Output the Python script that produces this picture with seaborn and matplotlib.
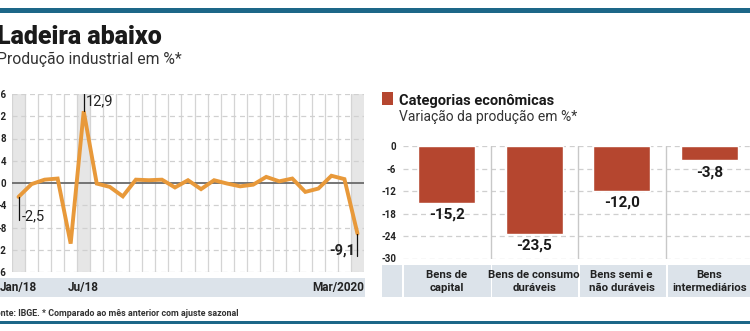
import numpy as np
import pandas as pd
import matplotlib
matplotlib.use("Agg")
import matplotlib.pyplot as plt
from matplotlib.patches import Rectangle
import seaborn as sns

# ---------------- data ----------------
months = list(range(27))  # Jan/2018 .. Mar/2020
production = [-2.5, -0.2, 0.6, 0.8, -10.9, 12.9, -0.1, -0.7, -2.4, 0.6, 0.5, 0.6, -0.8,
              0.5, -1.1, 0.5, -0.1, -0.6, -0.3, 1.1, 0.3, 0.8, -1.6, -1.0, 1.3, 0.7, -9.1]
month_tick_pos = [0, 5, 26]
month_tick_labels = ["Jan/18", "Ju/18", "Mar/2020"]
highlight_months = [0, 5, 26]
left_yticks = [16, 12, 8, 4, 0, -4, -8, -12, -16]

categories = ["Bens de\ncapital", "Bens de consumo\nduráveis", "Bens semi e\nnão duráveis", "Bens\nintermediários"]
cat_values = [-15.2, -23.5, -12.0, -3.8]
right_yticks = [0, -6, -12, -18, -24, -30]

# ---------------- style ----------------
sns.set_theme(style="white")
FONT = ["Roboto", "DejaVu Sans"]
plt.rcParams["font.family"] = FONT

W, H = 750, 331
fig = plt.figure(figsize=(W / 100, H / 100), dpi=100)
fig.patch.set_facecolor("white")

def fx(x):
    return x / W

def fy(y):
    return 1 - y / H

def rect(x0, y0, x1, y1, color, z=0):
    fig.patches.append(Rectangle((fx(x0), fy(y1)), fx(x1) - fx(x0), fy(y0) - fy(y1),
                                 transform=fig.transFigure, facecolor=color,
                                 edgecolor="none", zorder=z))

TEAL = "#1d6788"
BAND = "#dce3ea"
ORANGE = "#e8993a"
RED = "#b5462f"
TXT = "#222222"

# rules
rect(0, 8, 750, 13, TEAL)
rect(0, 321, 750, 323.5, TEAL)

# titles
fig.text(fx(-3), fy(44), "Ladeira abaixo", fontsize=18, fontweight="heavy", color="#1a1a1a",
         va="baseline", ha="left")
fig.text(fx(-3), fy(64), "Produção industrial em %*", fontsize=11.3, color="#333333",
         va="baseline", ha="left")

# ---------------- left line chart ----------------
ax1 = fig.add_axes([fx(12), fy(272), fx(364) - fx(12), fy(94) - fy(272)])
ax1.set_facecolor("none")
for m in highlight_months:
    ax1.axvspan(m - 0.5, m + 0.5, color="#e6e6e6", zorder=0, lw=0)
ax1.set_xlim(-0.5, 26.5)
ax1.set_ylim(-16, 16)
ax1.set_xticks(np.arange(-0.5, 27, 1), minor=True)
ax1.grid(which="minor", axis="x", color="#d4d4d4", lw=0.9, zorder=1)
for yv in left_yticks:
    if yv != 0:
        ax1.axhline(yv, color="#d0d0d0", lw=0.9, ls=(0, (4, 3)), zorder=1)
ax1.axhline(0, color="#6a6a6a", lw=1.3, zorder=2)

df_line = pd.DataFrame({"month": months, "value": production})
sns.lineplot(data=df_line, x="month", y="value", ax=ax1, color=ORANGE, lw=2.8,
             zorder=4, solid_joinstyle="miter")

for s in ax1.spines.values():
    s.set_visible(False)
ax1.set_xlabel("")
ax1.set_ylabel("")
ax1.set_yticks(left_yticks)
ax1.set_yticklabels([str(v) for v in left_yticks], fontsize=7, fontweight="bold", color=TXT)
ax1.tick_params(axis="y", length=0, pad=4)
ax1.set_xticks([month_tick_pos[0], month_tick_pos[1], month_tick_pos[2] + 0.5])
ax1.set_xticklabels(month_tick_labels, fontsize=8.5, fontweight="bold", color=TXT, va="center")
ax1.tick_params(axis="x", which="both", length=0, pad=11.5)
ax1.get_xticklabels()[-1].set_ha("right")

# annotations
i0, i5, i26 = 0, 5, 26
ax1.plot([i0, i0], [production[i0], -6.6], color="#111111", lw=0.9, zorder=5)
ax1.text(i0 + 0.25, -5.9, "-2,5", fontsize=10.5, color="#222222", va="center", ha="left")
ax1.plot([i5, i5], [production[i5], 16], color="#111111", lw=0.9, zorder=5)
ax1.text(i5 + 0.2, 14.6, "12,9", fontsize=10.5, color="#222222", va="center", ha="left")
ax1.plot([i26, i26], [production[i26], -13.1], color="#111111", lw=0.9, zorder=5)
ax1.text(i26 - 0.2, -12.2, "-9,1", fontsize=10.5, fontweight="bold", color="#222222",
         va="center", ha="right")

# band under left chart
rect(0, 278, 365, 297, BAND, z=-1)

# ---------------- right bar chart ----------------
rect(382, 92, 393, 105.5, RED)
fig.text(fx(399), fy(105), "Categorias econômicas", fontsize=10.5, fontweight="bold",
         color="#1a1a1a", va="baseline", ha="left")
fig.text(fx(399), fy(121), "Variação da produção em %*", fontsize=10, color="#333333",
         va="baseline", ha="left")

ax2 = fig.add_axes([fx(403), fy(258.5), fx(753) - fx(403), fy(146) - fy(258.5)])
ax2.set_facecolor("none")
ax2.set_xlim(-0.5, 3.5)
ax2.set_ylim(-30, 0)
for yv in right_yticks:
    ax2.axhline(yv, color="#cfcfcf", lw=0.9, ls=(0, (4, 3)), zorder=0)
for b in [0.5, 1.5, 2.5]:
    ax2.axvline(b, color="#c8c8c8", lw=1.0, zorder=0)

df_bar = pd.DataFrame({"cat": categories, "val": cat_values})
sns.barplot(data=df_bar, x="cat", y="val", ax=ax2, color=RED, width=0.65,
            saturation=1, zorder=3)
ax2.set_xlim(-0.5, 3.5)
ax2.set_ylim(-30, 1e-9)
for i, v in enumerate(cat_values):
    ax2.text(i, v - 3.15, f"{v:.1f}".replace(".", ","), fontsize=11, fontweight="bold",
             color="#1a1a1a", ha="center", va="center", zorder=5)

for s in ax2.spines.values():
    s.set_visible(False)
ax2.set_xlabel("")
ax2.set_ylabel("")
ax2.set_yticks(right_yticks)
ax2.set_yticklabels([str(v) for v in right_yticks], fontsize=7, fontweight="bold", color=TXT)
ax2.tick_params(axis="y", length=0, pad=5)
ax2.set_xticks(range(len(categories)))
ax2.set_xticklabels(categories, fontsize=8.2, fontweight="bold", color=TXT, va="center",
                    linespacing=1.3)
ax2.tick_params(axis="x", length=0, pad=16.5)

# band under right chart (cells)
rect(382, 265, 750, 297, BAND, z=-1)
for xs in [402.5, 491.5, 579, 667]:
    rect(xs - 1, 265, xs + 1, 297, "white", z=-0.5)

# footer
fig.text(fx(-9), fy(316), "Fonte: IBGE. * Comparado ao mês anterior com ajuste sazonal",
         fontsize=6.4, fontweight="bold", color="#333333", va="baseline", ha="left")

fig.savefig("out.png", dpi=100)
